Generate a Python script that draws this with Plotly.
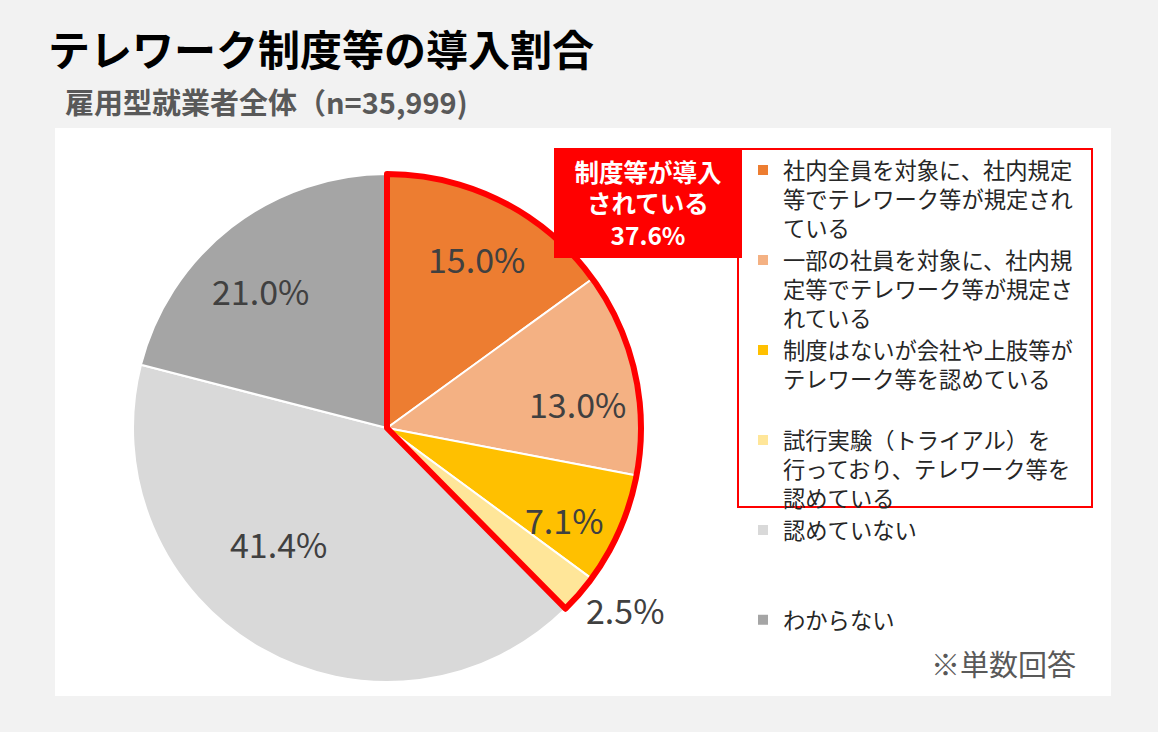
import math
import plotly.graph_objects as go

# ---- data ----
categories = [
    "社内全員を対象に、社内規定等でテレワーク等が規定されている",
    "一部の社員を対象に、社内規定等でテレワーク等が規定されている",
    "制度はないが会社や上肢等がテレワーク等を認めている",
    "試行実験（トライアル）を行っており、テレワーク等を認めている",
    "認めていない",
    "わからない",
]
legend_labels = [
    "社内全員を対象に、社内規定<br>等でテレワーク等が規定され<br>ている",
    "一部の社員を対象に、社内規<br>定等でテレワーク等が規定さ<br>れている",
    "制度はないが会社や上肢等が<br>テレワーク等を認めている<br>\u00a0",
    "試行実験（トライアル）を<br>行っており、テレワーク等を<br>認めている",
    "認めていない<br>\u00a0<br>\u00a0",
    "わからない<br>\u00a0<br>\u00a0",
]
values = [15.0, 13.0, 7.1, 2.5, 41.4, 21.0]
colors = ["#ED7D31", "#F4B183", "#FFC000", "#FFE699", "#D9D9D9", "#A5A5A5"]
introduced_count = 4  # first four categories = 制度等が導入されている

title_text = "テレワーク制度等の導入割合"
subtitle_text = "雇用型就業者全体（n=35,999)"
note_text = "※単数回答"

# label placement style (radius as fraction of pie radius, angular nudge in degrees)
label_radius = [0.754, 0.754, 0.787, 1.18, 0.624, 0.738]
label_nudge = [1.0, 5.4, 3.5, -3.5, 13.1, -4.8]

W, H = 1158, 732
JP = "Noto Sans CJK JP"

introduced_total = round(sum(values[:introduced_count]), 1)
rest_total = round(sum(values[introduced_count:]), 1)

# pie geometry (pixels)
cx, cy, r = 387, 428, 254
dom_x = [(cx - r) / W, (cx + r) / W]
dom_y = [1 - (cy + r) / H, 1 - (cy - r) / H]

fig = go.Figure()

fig.add_trace(go.Pie(
    labels=legend_labels,
    values=values,
    sort=False,
    direction="clockwise",
    rotation=0,
    domain=dict(x=dom_x, y=dom_y),
    marker=dict(colors=colors, line=dict(color="white", width=2)),
    textinfo="none",
    hoverinfo="skip",
    showlegend=True,
))

# red outline around the "introduced" group
fig.add_trace(go.Pie(
    labels=["導入", "その他"],
    values=[introduced_total, rest_total],
    sort=False,
    direction="clockwise",
    rotation=0,
    domain=dict(x=dom_x, y=dom_y),
    marker=dict(colors=["rgba(0,0,0,0)", "rgba(0,0,0,0)"],
                line=dict(color=["#FF0000", "rgba(0,0,0,0)"], width=6)),
    textinfo="none",
    hoverinfo="skip",
    showlegend=False,
))

# percentage labels placed from the data's cumulative angles
annotations = []
total = sum(values)
cum = 0.0
for v, rf, nd in zip(values, label_radius, label_nudge):
    mid = (cum + v / 2) / total * 360.0 + nd
    cum += v
    th = math.radians(mid)
    px = cx + rf * r * math.sin(th)
    py = cy - rf * r * math.cos(th)
    annotations.append(dict(
        text=f"{v:.1f}%", xref="paper", yref="paper",
        x=px / W, y=1 - py / H, xanchor="center", yanchor="middle",
        showarrow=False, font=dict(family=JP, size=34, color="#404040"),
    ))

annotations += [
    dict(text=f"<b>{title_text}</b>", xref="paper", yref="paper",
         x=46 / W, y=1 - 48 / H, xanchor="left", yanchor="middle",
         showarrow=False, font=dict(family=JP, size=42, color="#000000")),
    dict(text=f"<b>{subtitle_text}</b>", xref="paper", yref="paper",
         x=63 / W, y=1 - 101 / H, xanchor="left", yanchor="middle",
         showarrow=False, font=dict(family=JP, size=29, color="#595959")),
    dict(text=f"<b>制度等が導入<br>されている<br>{introduced_total:.1f}%</b>",
         xref="paper", yref="paper",
         x=648 / W, y=1 - 203 / H, xanchor="center", yanchor="middle",
         showarrow=False, width=188, height=110, bgcolor="#FF0000",
         borderpad=0, borderwidth=0, align="center",
         font=dict(family=JP, size=24.5, color="white")),
    dict(text=note_text, xref="paper", yref="paper",
         x=1078 / W, y=1 - 663 / H, xanchor="right", yanchor="middle",
         showarrow=False, font=dict(family=JP, size=29, color="#595959")),
]

fig.update_layout(
    width=W, height=H,
    margin=dict(l=0, r=0, t=0, b=0),
    paper_bgcolor="#F2F2F2",
    plot_bgcolor="#F2F2F2",
    showlegend=True,
    legend=dict(
        x=743 / W, y=1 - 149 / H, xanchor="left", yanchor="top",
        font=dict(family=JP, size=22.3, color="#262626"),
        valign="top",
        bgcolor="rgba(0,0,0,0)",
        traceorder="normal",
    ),
    shapes=[
        dict(type="rect", xref="paper", yref="paper",
             x0=55 / W, x1=1111 / W, y0=1 - 696 / H, y1=1 - 128 / H,
             fillcolor="white", line=dict(width=0), layer="below"),
        dict(type="rect", xref="paper", yref="paper",
             x0=738 / W, x1=1092 / W, y0=1 - 507 / H, y1=1 - 149 / H,
             fillcolor="rgba(0,0,0,0)", line=dict(color="#FF0000", width=2),
             layer="above"),
    ],
    annotations=annotations,
)

fig.write_html(
    "out.html",
    config={"displayModeBar": False},
    post_script="document.body.style.margin='0';document.body.style.background='#F2F2F2';",
)
